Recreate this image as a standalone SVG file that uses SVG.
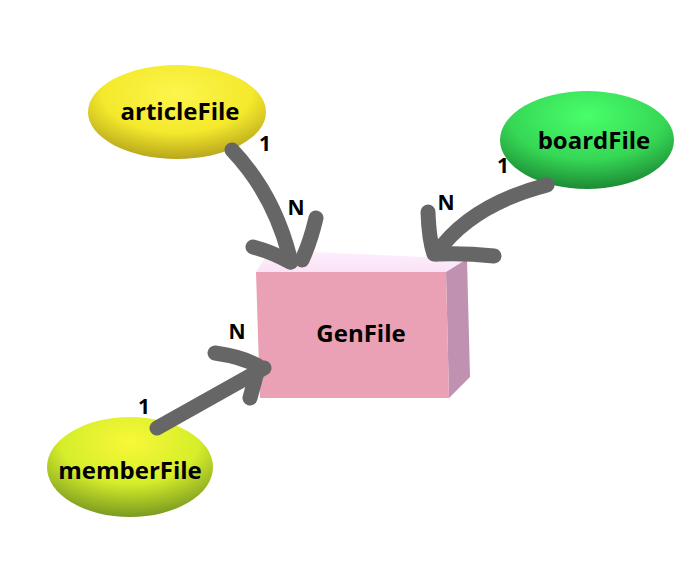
<svg xmlns="http://www.w3.org/2000/svg" width="696" height="564" viewBox="0 0 696 564">
<defs>
<radialGradient id="gArticle" cx="50%" cy="30%" r="70%">
<stop offset="0" stop-color="#fcf54c"/>
<stop offset="0.6" stop-color="#f4e92c"/>
<stop offset="1" stop-color="#b8a61c"/>
</radialGradient>
<radialGradient id="gBoard" cx="50%" cy="25%" r="75%">
<stop offset="0" stop-color="#48ff6a"/>
<stop offset="0.6" stop-color="#36d755"/>
<stop offset="1" stop-color="#1c8a34"/>
</radialGradient>
<radialGradient id="gMember" cx="50%" cy="25%" r="75%">
<stop offset="0" stop-color="#f8f838"/>
<stop offset="0.55" stop-color="#d6ee2a"/>
<stop offset="1" stop-color="#7a9a20"/>
</radialGradient>
<linearGradient id="gTop" x1="0" y1="0" x2="0" y2="1">
<stop offset="0" stop-color="#fcf0fc"/>
<stop offset="1" stop-color="#fbe2f6"/>
</linearGradient>
</defs>
<style>
.lbl{font-family:"Open Sans","Noto Sans","Liberation Sans",sans-serif;font-weight:bold;font-size:24px;fill:#000;text-anchor:middle;}
.card{font-family:"Open Sans","Noto Sans","Liberation Sans",sans-serif;font-weight:bold;font-size:21px;fill:#000;text-anchor:middle;}
.conn path{fill:none;stroke:#666666;stroke-width:15;stroke-linecap:round;stroke-linejoin:round;}
</style>
<rect width="696" height="564" fill="#ffffff"/>

<g id="articleFile">
<ellipse cx="177" cy="112" rx="89" ry="47" fill="url(#gArticle)"/>
<text class="lbl" x="180" y="120">articleFile</text>
</g>
<g id="boardFile">
<ellipse cx="587" cy="140" rx="87" ry="49" fill="url(#gBoard)"/>
<text class="lbl" x="594" y="149">boardFile</text>
</g>
<g id="memberFile">
<ellipse cx="130" cy="467" rx="83" ry="50" fill="url(#gMember)"/>
<text class="lbl" x="130" y="479">memberFile</text>
</g>
<g id="GenFile">
<polygon points="256,272 270,250 467,259 446,272" fill="url(#gTop)"/>
<polygon points="446,272 467,259 470,377 449,398" fill="#c091b0"/>
<polygon points="256,272 446,272 449,398 260,398" fill="#eaa0b5"/>
<text class="lbl" x="361" y="342">GenFile</text>
</g>

<g id="connectors" class="conn">
<path d="M232,150 Q275,195 291,262"/>
<path d="M253,247 Q272,252 290,262"/>
<path d="M316,218 Q310,243 302,260"/>
<path d="M547,185 Q470,205 436,254"/>
<path d="M428,212 Q429,240 434,254"/>
<path d="M494,256 Q465,253 438,254"/>
<path d="M157,428 L264,368"/>
<path d="M215,353 Q243,357 258,366"/>
<path d="M250,398 L257,372"/>
</g>
<g id="cardinalities">
<text class="card" x="265" y="151">1</text>
<text class="card" x="296" y="215">N</text>
<text class="card" x="503" y="173">1</text>
<text class="card" x="446" y="210">N</text>
<text class="card" x="237" y="339">N</text>
<text class="card" x="144" y="414">1</text>
</g>
</svg>
